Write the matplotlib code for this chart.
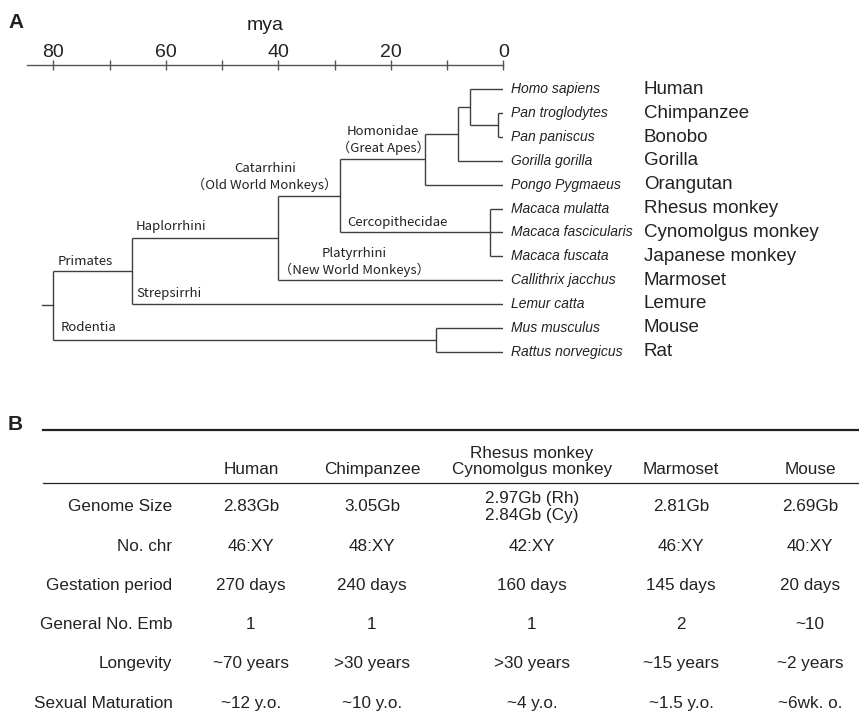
"""Primate phylogeny (panel A) and genome/life-history table (panel B)"""
import matplotlib
matplotlib.use('Agg')
from matplotlib import pyplot as plt

plt.rcParams['font.family'] = ['Liberation Sans', 'DejaVu Sans']
TXT = '#222222'
LINE = '#3f3f3f'
JP = ['Noto Sans CJK JP', 'DejaVu Sans']

# ---- panel A data -------------------------------------------------------
species = ['Homo sapiens', 'Pan troglodytes', 'Pan paniscus', 'Gorilla gorilla',
           'Pongo Pygmaeus', 'Macaca mulatta', 'Macaca fascicularis', 'Macaca fuscata',
           'Callithrix jacchus', 'Lemur catta', 'Mus musculus', 'Rattus norvegicus']
common_names = ['Human', 'Chimpanzee', 'Bonobo', 'Gorilla', 'Orangutan', 'Rhesus monkey',
                'Cynomolgus monkey', 'Japanese monkey', 'Marmoset', 'Lemure', 'Mouse', 'Rat']

# internal nodes, children first; ages in million years ago
clade_names = ['pan', 'homo_pan', 'homo_gorilla', 'homonidae', 'macaca',
               'catarrhini', 'haplorrhini', 'primates', 'rodentia', 'root']
clade_ages = [1, 6, 8, 14, 2.4, 29, 40, 66, 12, 80]
clade_children = [['Pan troglodytes', 'Pan paniscus'],
                  ['Homo sapiens', 'pan'],
                  ['homo_pan', 'Gorilla gorilla'],
                  ['homo_gorilla', 'Pongo Pygmaeus'],
                  ['Macaca mulatta', 'Macaca fascicularis', 'Macaca fuscata'],
                  ['homonidae', 'macaca'],
                  ['catarrhini', 'Callithrix jacchus'],
                  ['haplorrhini', 'Lemur catta'],
                  ['Mus musculus', 'Rattus norvegicus'],
                  ['primates', 'rodentia']]
root_stub_age = 82

major_ticks = [0, 20, 40, 60, 80]
minor_ticks = [10, 30, 50, 70]

# ---- panel B data -------------------------------------------------------
table_species = ['Human', 'Chimpanzee', 'Rhesus monkey\nCynomolgus monkey', 'Marmoset', 'Mouse']
row_labels = ['Genome Size', 'No. chr', 'Gestation period', 'General No. Emb',
              'Longevity', 'Sexual Maturation']
genome_size = ['2.83Gb', '3.05Gb', '2.97Gb (Rh)\n2.84Gb (Cy)', '2.81Gb', '2.69Gb']
chromosomes = ['46:XY', '48:XY', '42:XY', '46:XY', '40:XY']
gestation = ['270 days', '240 days', '160 days', '145 days', '20 days']
embryos = ['1', '1', '1', '2', '~10']
longevity = ['~70 years', '>30 years', '>30 years', '~15 years', '~2 years']
maturation = ['~12 y.o.', '~10 y.o.', '~4 y.o.', '~1.5 y.o.', '~6wk. o.']
table_rows = [genome_size, chromosomes, gestation, embryos, longevity, maturation]

W, H = 859, 723
fig = plt.figure(figsize=(W / 100, H / 100), dpi=100)

# ---- panel A ------------------------------------------------------------
axA = fig.add_axes([27 / W, 1 - 365 / H, 476.3 / W, 300 / H])
axA.set_xlim(84.7, 0)
axA.set_ylim(11.56, -1.02)
for s in ['left', 'right', 'bottom']:
    axA.spines[s].set_visible(False)
axA.spines['top'].set_color('#555555')
axA.spines['top'].set_linewidth(1.0)
axA.set_yticks([])
axA.xaxis.tick_top()
axA.set_xticks(major_ticks)
axA.set_xticks(minor_ticks, minor=True)
axA.tick_params(axis='x', which='both', direction='inout', length=7.5, width=1,
                color='#555555', labelsize=14, labelcolor=TXT, pad=-0.8)
axA.set_xlabel('mya', fontsize=14, color=TXT, labelpad=10)
axA.xaxis.set_label_position('top')

ypos = {name: i for i, name in enumerate(species)}
age = {name: 0 for name in species}
for name, a, kids in zip(clade_names, clade_ages, clade_children):
    ys = [ypos[k] for k in kids]
    ypos[name] = (min(ys) + max(ys)) / 2
    age[name] = a
    axA.plot([a, a], [min(ys), max(ys)], color=LINE, lw=1.0, solid_capstyle='butt')
    for k in kids:
        axA.plot([a, age[k]], [ypos[k], ypos[k]], color=LINE, lw=1.0, solid_capstyle='butt')
axA.plot([root_stub_age, clade_ages[-1]], [ypos['root']] * 2, color=LINE, lw=1.0)

for i, (sp, cn) in enumerate(zip(species, common_names)):
    axA.text(-1.35, i, sp, fontsize=10, fontstyle='italic', color=TXT,
             ha='left', va='center', clip_on=False)
    axA.text(-25.0, i, cn, fontsize=13.5, color=TXT, ha='left', va='center', clip_on=False)

clade_kw = dict(fontsize=9.5, color=TXT, family=JP, va='center', clip_on=False,
                linespacing=1.25)
axA.text(79.3, 7.2, 'Primates', ha='left', **clade_kw)
axA.text(65.3, 5.76, 'Haplorrhini', ha='left', **clade_kw)
axA.text(42.4, 3.69, 'Catarrhini\n（Old World Monkeys）', ha='center', **clade_kw)
axA.text(21.4, 2.12, 'Homonidae\n（Great Apes）', ha='center', **clade_kw)
axA.text(27.8, 5.59, 'Cercopithecidae', ha='left', **clade_kw)
axA.text(26.5, 7.25, 'Platyrrhini\n（New World Monkeys）', ha='center', **clade_kw)
axA.text(65.2, 8.55, 'Strepsirrhi', ha='left', **clade_kw)
axA.text(78.7, 9.98, 'Rodentia', ha='left', **clade_kw)

# ---- panel B ------------------------------------------------------------
axB = fig.add_axes([0, 0, 1, 1 - 405 / H])
axB.set_xlim(0, 1)
axB.set_ylim(5.51, -2.60)
axB.axis('off')

col_x = [251 / W, 372 / W, 532 / W, 681 / W, 810 / W]
label_x = 172.5 / W
line_x0 = 42.7 / W

axB.axhline(-1.95, xmin=line_x0, xmax=1, color='#222222', lw=1.6)
axB.axhline(-0.62, xmin=line_x0, xmax=1, color='#222222', lw=0.9)

for x, name in zip(col_x, table_species):
    axB.text(x, -0.84, name, fontsize=12.3, color=TXT, ha='center', va='baseline',
             linespacing=1.1)
for r, (lab, vals) in enumerate(zip(row_labels, table_rows)):
    axB.text(label_x, r, lab, fontsize=12.3, color=TXT, ha='right', va='center')
    for x, v in zip(col_x, vals):
        axB.text(x, r, v, fontsize=12.3, color=TXT, ha='center', va='center',
                 linespacing=1.1)

fig.text(8 / W, 1 - 22 / H, 'A', fontsize=15, fontweight='bold', color=TXT, va='center')
fig.text(8 / W, 1 - 425 / H, 'B', fontsize=15, fontweight='bold', color=TXT, va='center')

fig.savefig('out.png', dpi=100)
